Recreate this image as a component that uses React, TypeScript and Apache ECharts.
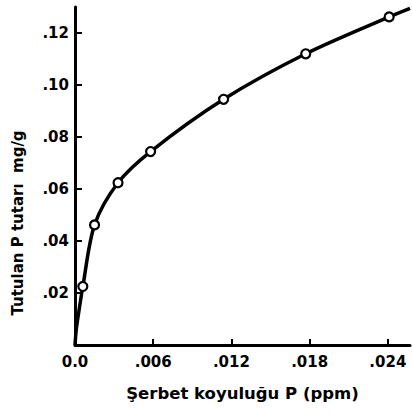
import React, { useEffect, useRef } from "react";
import * as echarts from "echarts";

// Measured points (Şerbet koyuluğu P ppm, Tutulan P mg/g)
const pointX = [0.0006, 0.0015, 0.0033, 0.0058, 0.0114, 0.0177, 0.0241];
const pointY = [0.0225, 0.0462, 0.0624, 0.0744, 0.0945, 0.112, 0.1262];

// Drawn curve (passes origin, through points, runs a bit beyond the last one)
const curveX = [0, 0.0001, 0.0003, 0.0006, 0.0015, 0.0033, 0.0058, 0.0114, 0.0177, 0.0241, 0.0257];
const curveY = [0, 0.006, 0.013, 0.0225, 0.0462, 0.0624, 0.0744, 0.0945, 0.112, 0.1262, 0.1295];

const xTickValues = [0, 0.006, 0.012, 0.018, 0.024];
const xTickLabels = ["0.0", ".006", ".012", ".018", ".024"];
const yTickValues = [0.02, 0.04, 0.06, 0.08, 0.1, 0.12];
const yTickLabels = [".02", ".04", ".06", ".08", ".10", ".12"];

const xName = "Şerbet koyuluğu P (ppm)";
const yName = "Tutulan P tutarı  mg/g";

const FONT = "DejaVu Sans";

function labelFor(values: number[], labels: string[], v: number): string {
  for (let i = 0; i < values.length; i++) {
    if (Math.abs(values[i] - v) < 1e-9) return labels[i];
  }
  return "";
}

export default function App() {
  const ref = useRef<HTMLDivElement>(null);
  useEffect(() => {
    if (!ref.current) return;
    const chart = echarts.init(ref.current, undefined, { renderer: "svg" });
    chart.setOption({
      animation: false,
      backgroundColor: "#ffffff",
      grid: { left: 75, top: 7, right: 2, bottom: 74, containLabel: false },
      xAxis: {
        type: "value",
        min: 0,
        max: 0.0257,
        splitLine: { show: false },
        axisLine: { show: true, lineStyle: { color: "#000", width: 3 } },
        axisTick: {
          show: true,
          inside: true,
          length: 6,
          lineStyle: { color: "#000", width: 2 },
          customValues: xTickValues.slice(1),
        },
        axisLabel: {
          show: true,
          customValues: xTickValues,
          formatter: (v: number) => labelFor(xTickValues, xTickLabels, v),
          color: "#000",
          fontFamily: FONT,
          fontWeight: "bold",
          fontSize: 15,
          margin: 9,
        },
        name: xName,
        nameLocation: "middle",
        nameGap: 40,
        nameTextStyle: { color: "#000", fontFamily: FONT, fontWeight: "bold", fontSize: 16.5 },
      },
      yAxis: {
        type: "value",
        min: 0,
        max: 0.13,
        splitLine: { show: false },
        axisLine: { show: true, lineStyle: { color: "#000", width: 3 } },
        axisTick: {
          show: true,
          inside: true,
          length: 7,
          lineStyle: { color: "#000", width: 2 },
          customValues: yTickValues,
        },
        axisLabel: {
          show: true,
          customValues: yTickValues,
          formatter: (v: number) => labelFor(yTickValues, yTickLabels, v),
          color: "#000",
          fontFamily: FONT,
          fontWeight: "bold",
          fontSize: 15,
          margin: 6,
        },
      },
      graphic: [
        {
          type: "text",
          x: 18,
          y: 223,
          rotation: Math.PI / 2,
          style: {
            text: yName,
            fill: "#000",
            font: `bold 15px "${FONT}"`,
            align: "center",
            verticalAlign: "middle",
          },
        },
      ],
      series: [
        {
          type: "line",
          data: curveX.map((x, i) => [x, curveY[i]]),
          smooth: 0.3,
          showSymbol: false,
          symbol: "none",
          lineStyle: { color: "#000", width: 3.5 },
          z: 2,
        },
        {
          type: "scatter",
          data: pointX.map((x, i) => [x, pointY[i]]),
          symbol: "circle",
          symbolSize: 9,
          itemStyle: { color: "#fff", borderColor: "#000", borderWidth: 2.2, opacity: 1 },
          z: 3,
        },
      ],
    });
    return () => chart.dispose();
  }, []);
  return (
    <div
      ref={ref}
      style={{ position: "fixed", left: 0, top: 0, width: 412, height: 419 }}
    />
  );
}
